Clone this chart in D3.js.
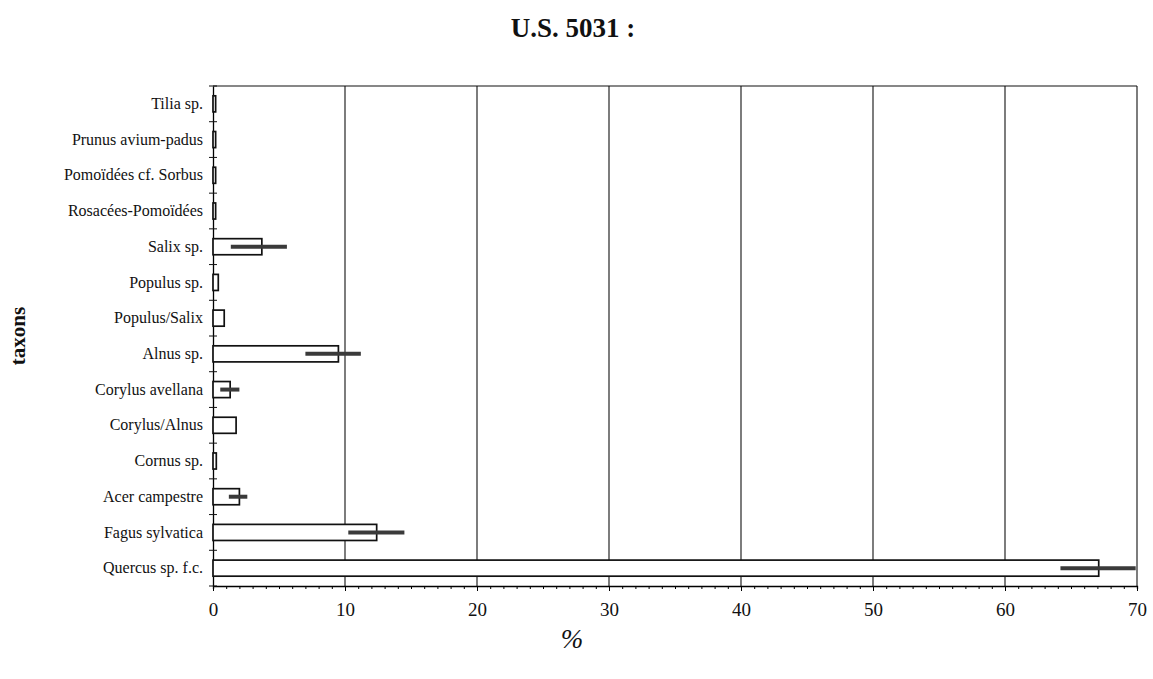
<!DOCTYPE html>
<html>
<head>
<meta charset="utf-8">
<script src="https://cdn.jsdelivr.net/npm/d3@7"></script>
<style>
    body { margin: 0; background: #fff; }
    svg { display: block; }
    text { font-family: "Liberation Serif", "DejaVu Serif", serif; fill: #111; }
</style>
</head>
<body>
<div id="chart"></div>
<script>
//--------------------------DATA--------------------------//
const taxa = ["Tilia sp.", "Prunus avium-padus", "Pomoïdées cf. Sorbus", "Rosacées-Pomoïdées",
    "Salix sp.", "Populus sp.", "Populus/Salix", "Alnus sp.", "Corylus avellana",
    "Corylus/Alnus", "Cornus sp.", "Acer campestre", "Fagus sylvatica", "Quercus sp. f.c."];
const values   = [0.2, 0.2, 0.2, 0.2, 3.7, 0.4, 0.85, 9.5, 1.3, 1.75, 0.25, 2.0, 12.4, 67.1];
const errLow   = [null, null, null, null, 1.35, null, null, 7.0, 0.55, null, null, 1.2, 10.25, 64.2];
const errHigh  = [null, null, null, null, 5.6, null, null, 11.2, 2.0, null, null, 2.6, 14.5, 69.9];
const xTicks   = [0, 10, 20, 30, 40, 50, 60, 70];

const title = "U.S. 5031 :";
const xTitle = "%";
const yTitle = "taxons";

//-----------------------SVG SETUP------------------------//
const W = 1153, H = 679;
const margin = {top: 86, right: 16, bottom: 93, left: 213};
const width = W - margin.left - margin.right;
const height = H - margin.top - margin.bottom;

const svg = d3.select("#chart").append("svg")
    .attr("width", W)
    .attr("height", H);

const g = svg.append("g")
    .attr("transform", "translate(" + margin.left + "," + margin.top + ")");

//-------------------------SCALES-------------------------//
const x = d3.scaleLinear().domain([0, 70]).range([0, width]);
const y = d3.scaleBand().domain(taxa).range([0, height])
    .paddingInner(0.55).paddingOuter(0.275);

const rows = taxa.map(function(t, i) {
    return {name: t, value: values[i], lo: errLow[i], hi: errHigh[i]};
});

//-------------------------GRID---------------------------//
g.selectAll(".grid")
    .data(xTicks.slice(1))
    .enter().append("line")
    .attr("x1", d => x(d)).attr("x2", d => x(d))
    .attr("y1", 0).attr("y2", height)
    .attr("stroke", "#111").attr("stroke-width", 1.1);

// top border
g.append("line")
    .attr("x1", 0).attr("x2", x(70))
    .attr("y1", 0).attr("y2", 0)
    .attr("stroke", "#111").attr("stroke-width", 1.2);

//-------------------------AXES---------------------------//
// minor ticks every 1 %
g.append("g")
    .attr("transform", "translate(0," + height + ")")
    .call(d3.axisBottom(x).ticks(70).tickSize(3).tickFormat(""))
    .call(s => s.select(".domain").attr("stroke-width", 1.3));

// major ticks and labels
g.append("g")
    .attr("transform", "translate(0," + height + ")")
    .call(d3.axisBottom(x).tickValues(xTicks).tickSize(5).tickPadding(12).tickFormat(d3.format("d")))
    .call(s => s.select(".domain").remove())
    .call(s => s.selectAll("text")
        .style("font-family", "'Liberation Serif', serif")
        .style("font-size", "19px")
        .attr("fill", "#111"));

// left axis
const yAxis = g.append("g")
    .call(d3.axisLeft(y).tickSize(0).tickPadding(10))
    .call(s => s.select(".domain").attr("stroke-width", 1.3))
    .call(s => s.selectAll("text")
        .style("font-family", "'Liberation Serif', serif")
        .style("font-size", "16px")
        .attr("fill", "#111"));

// boundary ticks between categories
yAxis.selectAll(".sep")
    .data(d3.range(taxa.length + 1))
    .enter().append("line")
    .attr("x1", -4).attr("x2", 4)
    .attr("y1", i => i * y.step()).attr("y2", i => i * y.step())
    .attr("stroke", "#111").attr("stroke-width", 1);

//-------------------------BARS---------------------------//
g.selectAll(".bar")
    .data(rows)
    .enter().append("rect")
    .attr("x", x(0))
    .attr("y", d => y(d.name))
    .attr("width", d => x(d.value) - x(0))
    .attr("height", y.bandwidth())
    .attr("fill", "#fff")
    .attr("stroke", "#111")
    .attr("stroke-width", 1.7);

//----------------------ERROR BARS------------------------//
g.selectAll(".err")
    .data(rows.filter(d => d.lo !== null))
    .enter().append("line")
    .attr("x1", d => x(d.lo)).attr("x2", d => x(d.hi))
    .attr("y1", d => y(d.name) + y.bandwidth() / 2)
    .attr("y2", d => y(d.name) + y.bandwidth() / 2)
    .attr("stroke", "#3a3a3a")
    .attr("stroke-width", 4);

//------------------------TITLES--------------------------//
svg.append("text")
    .attr("x", 573).attr("y", 37)
    .attr("text-anchor", "middle")
    .style("font-size", "27px")
    .style("font-weight", "bold")
    .text(title);

svg.append("text")
    .attr("x", 572).attr("y", 648)
    .attr("text-anchor", "middle")
    .style("font-size", "27px")
    .style("font-style", "italic")
    .text(xTitle);

svg.append("text")
    .attr("transform", "translate(25," + (margin.top + height / 2) + ") rotate(-90)")
    .attr("text-anchor", "middle")
    .style("font-size", "21px")
    .style("font-weight", "bold")
    .text(yTitle);
</script>
</body>
</html>
